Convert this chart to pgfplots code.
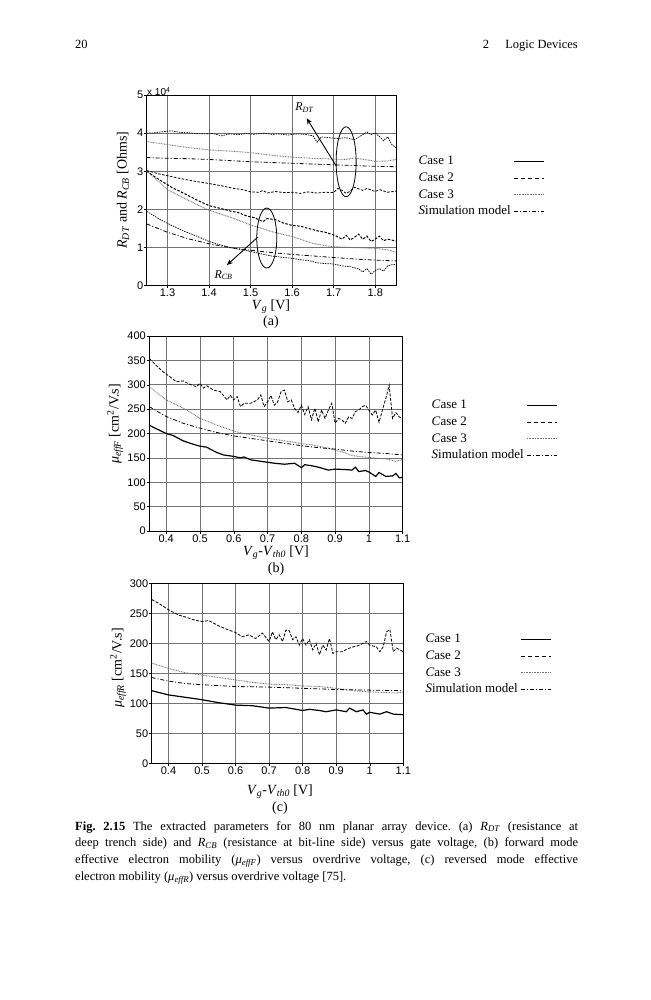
\documentclass[border=0pt]{standalone}
\usepackage{fontspec}
\setmainfont{Liberation Serif}
\setsansfont{Liberation Sans}
\usepackage{pgfplots}
\pgfplotsset{compat=1.18}
\usetikzlibrary{arrows.meta}

\newcommand{\RDT}{\textit{R}\textsubscript{\textit{DT}}}
\newcommand{\RCB}{\textit{R}\textsubscript{\textit{CB}}}
\newcommand{\mueF}{\textit{μ}\textsubscript{\textit{effF}}}
\newcommand{\mueR}{\textit{μ}\textsubscript{\textit{effR}}}

\tikzset{
 c1/.style={black, line width=1.2pt},
 c2/.style={black, line width=0.8pt, dash pattern=on 4pt off 3pt},
 c3/.style={black!55, line width=0.9pt, dash pattern=on 0.8pt off 0.8pt},
 sim/.style={black, line width=0.8pt, dash pattern=on 4pt off 2pt on 1pt off 2pt},
}

\pgfplotsset{
 myax/.style={
  scale only axis,
  axis line style={line width=0.6pt},
  grid=major,
  major grid style={black!55, line width=0.6pt},
  tick align=outside, major tick length=2.5pt,
  tick style={black, line width=0.5pt},
  tick pos=left,
  ticklabel style={font=\fontsize{11}{13}\sffamily\selectfont},
  xticklabel style={yshift=2.5pt},
  yticklabel style={xshift=2.5pt},
  /pgf/number format/assume math mode=true,
  legend plot pos=right,
  legend cell align=left,
  legend image code/.code={\draw[##1] (0pt,0pt) -- (30pt,0pt);},
  legend style={draw=none, fill=none, font=\fontsize{13}{15}\selectfont,
    nodes={inner sep=0.5pt, text height=9.5pt, text depth=3pt},
    row sep=3.2pt, column sep=2pt},
 },
}

\begin{document}
\frenchspacing
\begin{tikzpicture}
\useasboundingbox (0pt,0pt) rectangle (650pt,-1000pt);
\fill[white] (0pt,0pt) rectangle (650pt,-1000pt);

% header
\node[anchor=base west, inner sep=0pt, font=\fontsize{12.5}{15}\selectfont] at (75pt,-49pt) {20};
\node[anchor=base east, inner sep=0pt, font=\fontsize{12.5}{15}\selectfont] at (578pt,-49pt) {2\hspace{1.3em}Logic Devices};

% ---------------- (a) ----------------
\begin{axis}[myax,
  at={(146.7pt,-285.7pt)}, anchor=south west,
  width=249.3pt, height=190.7pt,
  xmin=1.25, xmax=1.85, ymin=0, ymax=5,
  xtick={1.3,1.4,1.5,1.6,1.7,1.8},
  ytick={0,1,2,3,4,5},
  legend style={at={(1.076,0.698)}, anchor=north west},
]
\addlegendimage{c1}\addlegendentry{\textit{C}ase 1}
\addlegendimage{c2}\addlegendentry{\textit{C}ase 2}
\addlegendimage{c3}\addlegendentry{\textit{C}ase 3}
\addlegendimage{sim}\addlegendentry{\textit{S}imulation model}
% R_DT group
\addplot[c2, line width=0.7pt, dash pattern=on 1.5pt off 1pt, forget plot] coordinates {
(1.25,4.00)(1.27,4.01)(1.29,4.04)(1.31,4.06)(1.33,4.02)(1.35,4.01)(1.37,3.99)(1.39,3.98)(1.41,3.99)(1.43,3.93)(1.45,3.98)(1.47,3.96)(1.49,3.99)(1.51,3.97)(1.53,4.00)(1.55,3.97)(1.57,3.98)(1.59,3.95)(1.61,3.98)(1.63,3.97)(1.65,3.93)(1.66,3.76)(1.67,3.90)(1.69,3.88)(1.71,3.86)(1.73,3.88)(1.75,3.83)(1.77,3.96)(1.78,4.03)(1.79,3.96)(1.80,4.01)(1.81,3.91)(1.82,3.80)(1.83,3.90)(1.84,3.70)(1.85,3.62)};
\addplot[c3, forget plot] coordinates {
(1.25,3.78)(1.30,3.70)(1.35,3.62)(1.40,3.56)(1.45,3.53)(1.50,3.49)(1.55,3.42)(1.60,3.37)(1.65,3.34)(1.70,3.32)(1.73,3.31)(1.75,3.35)(1.78,3.30)(1.80,3.26)(1.83,3.27)(1.85,3.31)};
\addplot[sim, forget plot] coordinates {
(1.25,3.36)(1.30,3.34)(1.35,3.33)(1.40,3.31)(1.45,3.28)(1.50,3.25)(1.55,3.23)(1.60,3.21)(1.65,3.19)(1.70,3.17)(1.75,3.15)(1.80,3.13)(1.85,3.12)};
\addplot[c2, dash pattern=on 2.5pt off 1.5pt, forget plot] coordinates {
(1.25,3.02)(1.28,2.93)(1.31,2.86)(1.34,2.79)(1.37,2.73)(1.40,2.68)(1.43,2.62)(1.46,2.55)(1.48,2.52)(1.50,2.46)(1.52,2.45)(1.53,2.50)(1.54,2.43)(1.56,2.47)(1.58,2.44)(1.60,2.45)(1.62,2.42)(1.64,2.46)(1.66,2.43)(1.68,2.45)(1.70,2.44)(1.71,2.55)(1.72,2.50)(1.73,2.42)(1.74,2.48)(1.75,2.58)(1.77,2.50)(1.78,2.55)(1.80,2.47)(1.81,2.52)(1.83,2.45)(1.85,2.48)};
% R_CB group
\addplot[c2, line width=1pt, dash pattern=on 2.5pt off 1.5pt, forget plot] coordinates {
(1.25,3.00)(1.28,2.78)(1.31,2.58)(1.34,2.42)(1.37,2.25)(1.40,2.10)(1.43,2.02)(1.45,1.96)(1.47,1.92)(1.49,1.83)(1.51,1.78)(1.53,1.68)(1.54,1.76)(1.56,1.73)(1.58,1.64)(1.60,1.58)(1.62,1.56)(1.64,1.50)(1.66,1.44)(1.68,1.40)(1.70,1.33)(1.71,1.28)(1.72,1.22)(1.73,1.32)(1.74,1.20)(1.75,1.27)(1.76,1.35)(1.77,1.22)(1.78,1.30)(1.79,1.16)(1.80,1.22)(1.81,1.30)(1.82,1.18)(1.83,1.22)(1.85,1.17)};
\addplot[c3, forget plot] coordinates {
(1.25,3.00)(1.28,2.72)(1.30,2.52)(1.33,2.35)(1.35,2.24)(1.38,2.08)(1.40,1.98)(1.43,1.87)(1.45,1.80)(1.48,1.68)(1.50,1.59)(1.53,1.49)(1.55,1.42)(1.58,1.34)(1.60,1.29)(1.63,1.18)(1.65,1.11)(1.68,1.05)(1.70,1.02)(1.75,1.00)(1.80,0.98)(1.83,0.94)(1.85,0.88)};
\addplot[sim, forget plot] coordinates {
(1.25,1.62)(1.30,1.40)(1.35,1.23)(1.40,1.10)(1.45,1.00)(1.50,0.93)(1.55,0.87)(1.60,0.82)(1.65,0.78)(1.70,0.74)(1.75,0.70)(1.80,0.67)(1.85,0.65)};
\addplot[c2, line width=0.7pt, dash pattern=on 1.5pt off 1pt, forget plot] coordinates {
(1.25,1.95)(1.28,1.75)(1.31,1.58)(1.34,1.43)(1.37,1.30)(1.40,1.16)(1.43,1.06)(1.46,0.98)(1.49,0.92)(1.52,0.85)(1.55,0.78)(1.58,0.74)(1.60,0.72)(1.62,0.68)(1.64,0.66)(1.66,0.60)(1.68,0.58)(1.70,0.57)(1.72,0.52)(1.74,0.50)(1.76,0.44)(1.77,0.36)(1.78,0.45)(1.79,0.30)(1.80,0.40)(1.81,0.45)(1.82,0.38)(1.83,0.52)(1.84,0.55)(1.85,0.56)};
% annotations
\draw[line width=0.8pt] (axis cs:1.730,3.25) ellipse [x radius=10pt, y radius=35pt];
\draw[line width=0.8pt] (axis cs:1.539,1.25) ellipse [x radius=10pt, y radius=30pt];
\draw[line width=0.9pt, -{Stealth[length=6pt,width=5pt]}] (axis cs:1.706,3.14) -- (axis cs:1.635,4.39);
\draw[line width=0.9pt, -{Stealth[length=6pt,width=5pt]}] (axis cs:1.518,1.28) -- (axis cs:1.443,0.54);
\node[font=\fontsize{12}{14}\selectfont] at (axis cs:1.630,4.66) {\RDT};
\node[font=\fontsize{12}{14}\selectfont] at (axis cs:1.435,0.28) {\RCB};
\end{axis}
\node[anchor=base west, inner sep=0pt, font=\fontsize{10}{12}\sffamily\selectfont] at (147pt,-96pt) {x 10\textsuperscript{4}};
\node[rotate=90, font=\fontsize{14}{16}\selectfont] at (123pt,-190pt) {\RDT{} and \RCB{} [Ohms]};
\node[anchor=base, inner sep=0pt, font=\fontsize{14}{16}\selectfont] at (271pt,-309pt) {\textit{V}\textsubscript{\textit{g}} [V]};
\node[anchor=base, inner sep=0pt, font=\fontsize{14}{16}\selectfont] at (271pt,-325pt) {(a)};

% ---------------- (b) ----------------
\begin{axis}[myax,
  at={(149.3pt,-531pt)}, anchor=south west,
  width=253.4pt, height=195pt,
  xmin=0.35, xmax=1.1, ymin=0, ymax=400,
  xtick={0.4,0.5,0.6,0.7,0.8,0.9,1.0,1.1},
  ytick={0,50,100,150,200,250,300,350,400},
  legend style={at={(1.10,0.69)}, anchor=north west},
]
\addlegendimage{c1}\addlegendentry{\textit{C}ase 1}
\addlegendimage{c2}\addlegendentry{\textit{C}ase 2}
\addlegendimage{c3}\addlegendentry{\textit{C}ase 3}
\addlegendimage{sim}\addlegendentry{\textit{S}imulation model}
\addplot[c2, dash pattern=on 3pt off 1.5pt, forget plot] coordinates {
(0.35,354)(0.37,340)(0.39,327)(0.41,317)(0.43,306)(0.45,308)(0.47,301)(0.49,296)(0.50,303)(0.51,293)(0.52,298)(0.54,289)(0.56,286)(0.58,269)(0.59,278)(0.60,269)(0.61,276)(0.62,255)(0.63,262)(0.65,262)(0.67,269)(0.68,279)(0.69,255)(0.70,265)(0.71,278)(0.72,258)(0.73,265)(0.74,286)(0.75,289)(0.76,265)(0.77,269)(0.78,252)(0.79,243)(0.80,258)(0.81,239)(0.82,255)(0.83,228)(0.84,252)(0.85,224)(0.86,248)(0.87,231)(0.88,248)(0.89,262)(0.90,221)(0.91,231)(0.92,228)(0.93,221)(0.94,234)(0.95,231)(0.96,245)(0.97,248)(0.98,255)(0.99,258)(1.00,248)(1.01,238)(1.02,248)(1.03,223)(1.04,248)(1.05,272)(1.06,299)(1.07,231)(1.08,243)(1.09,234)(1.10,231)};
\addplot[c3, forget plot] coordinates {
(0.35,296)(0.37,285)(0.40,269)(0.43,259)(0.45,252)(0.48,240)(0.50,231)(0.53,223)(0.55,217)(0.58,210)(0.60,205)(0.63,200)(0.65,197)(0.68,193)(0.70,190)(0.73,187)(0.75,185)(0.78,182)(0.80,179)(0.83,177)(0.85,174)(0.88,170)(0.90,166)(0.93,160)(0.95,155)(0.98,152)(1.00,151)(1.03,149)(1.05,148)(1.08,143)(1.10,147)};
\addplot[sim, forget plot] coordinates {
(0.35,255)(0.40,235)(0.45,221)(0.50,211)(0.55,202)(0.60,195)(0.65,190)(0.70,185)(0.75,180)(0.80,175)(0.85,171)(0.90,168)(0.95,164)(1.00,161)(1.05,159)(1.10,156)};
\addplot[c1, forget plot] coordinates {
(0.35,217)(0.37,210)(0.40,200)(0.42,196)(0.45,185)(0.48,178)(0.50,174)(0.52,172)(0.53,168)(0.55,161)(0.57,156)(0.60,153)(0.62,150)(0.63,152)(0.65,146)(0.67,144)(0.70,141)(0.72,139)(0.75,137)(0.78,139)(0.80,130)(0.81,136)(0.83,134)(0.85,131)(0.88,125)(0.90,127)(0.93,126)(0.95,125)(0.96,131)(0.97,122)(0.99,124)(1.00,121)(1.02,112)(1.03,120)(1.05,112)(1.07,113)(1.08,118)(1.09,109)(1.10,110)};
\end{axis}
\node[rotate=90, font=\fontsize{14}{16}\selectfont] at (115pt,-424pt) {\mueF{}  [cm\textsuperscript{2}/V.s]};
\node[anchor=base, inner sep=0pt, font=\fontsize{14}{16}\selectfont] at (276pt,-555pt) {\textit{V}\textsubscript{\textit{g}}-\textit{V}\textsubscript{\textit{th0}} [V]};
\node[anchor=base, inner sep=0pt, font=\fontsize{14}{16}\selectfont] at (276pt,-572pt) {(b)};

% ---------------- (c) ----------------
\begin{axis}[myax,
  at={(151.7pt,-763.3pt)}, anchor=south west,
  width=251.6pt, height=180pt,
  xmin=0.35, xmax=1.1, ymin=0, ymax=300,
  xtick={0.4,0.5,0.6,0.7,0.8,0.9,1.0,1.1},
  ytick={0,50,100,150,200,250,300},
  legend style={at={(1.074,0.738)}, anchor=north west},
]
\addlegendimage{c1}\addlegendentry{\textit{C}ase 1}
\addlegendimage{c2}\addlegendentry{\textit{C}ase 2}
\addlegendimage{c3}\addlegendentry{\textit{C}ase 3}
\addlegendimage{sim}\addlegendentry{\textit{S}imulation model}
\addplot[c2, dash pattern=on 3pt off 1.5pt, forget plot] coordinates {
(0.35,273)(0.37,267)(0.40,256)(0.43,247)(0.45,244)(0.47,240)(0.50,236)(0.52,238)(0.55,229)(0.58,222)(0.60,218)(0.62,211)(0.64,214)(0.66,208)(0.68,217)(0.70,203)(0.71,219)(0.72,206)(0.73,214)(0.74,203)(0.75,222)(0.76,221)(0.77,206)(0.78,211)(0.79,197)(0.80,208)(0.81,197)(0.82,206)(0.83,189)(0.84,200)(0.85,181)(0.86,197)(0.87,189)(0.88,208)(0.89,183)(0.90,186)(0.92,186)(0.93,190)(0.95,194)(0.97,197)(0.99,203)(1.00,197)(1.02,194)(1.03,186)(1.04,194)(1.05,219)(1.06,223)(1.07,186)(1.08,192)(1.10,186)};
\addplot[c3, forget plot] coordinates {
(0.35,167)(0.40,158)(0.45,151)(0.50,147)(0.55,143)(0.60,139)(0.65,135)(0.70,132)(0.75,131)(0.80,129)(0.85,128)(0.90,125)(0.95,121)(1.00,119)(1.05,118)(1.08,117)(1.10,119)};
\addplot[sim, forget plot] coordinates {
(0.35,143)(0.40,137)(0.45,133)(0.50,131)(0.60,128)(0.70,127)(0.80,125)(0.90,123)(1.00,122)(1.10,121)};
\addplot[c1, forget plot] coordinates {
(0.35,121)(0.40,114)(0.45,110)(0.50,106)(0.55,101)(0.60,97)(0.65,96)(0.70,92)(0.75,93)(0.80,88)(0.82,90)(0.85,88)(0.87,86)(0.90,89)(0.93,86)(0.94,92)(0.96,86)(0.98,89)(0.99,82)(1.00,85)(1.03,82)(1.05,86)(1.07,82)(1.10,81)};
\end{axis}
\node[rotate=90, font=\fontsize{14}{16}\selectfont] at (118pt,-668pt) {\mueR{}  [cm\textsuperscript{2}/V.s]};
\node[anchor=base, inner sep=0pt, font=\fontsize{14}{16}\selectfont] at (280pt,-794pt) {\textit{V}\textsubscript{\textit{g}}-\textit{V}\textsubscript{\textit{th0}} [V]};
\node[anchor=base, inner sep=0pt, font=\fontsize{14}{16}\selectfont] at (280pt,-811pt) {(c)};

% caption
\node[anchor=north west, inner sep=0pt, text width=503pt, align=justify,
      font=\fontsize{12.5}{16.7}\selectfont] at (75pt,-821pt)
{\frenchspacing\textbf{Fig. 2.15} The extracted parameters for 80 nm planar array device. (a) \RDT{} (resistance at\linebreak
deep trench side) and \RCB{} (resistance at bit-line side) versus gate voltage, (b) forward mode\linebreak
effective electron mobility (\mueF) versus overdrive voltage, (c) reversed mode effective\linebreak
electron mobility (\mueR) versus overdrive voltage [75].};
\end{tikzpicture}
\end{document}
